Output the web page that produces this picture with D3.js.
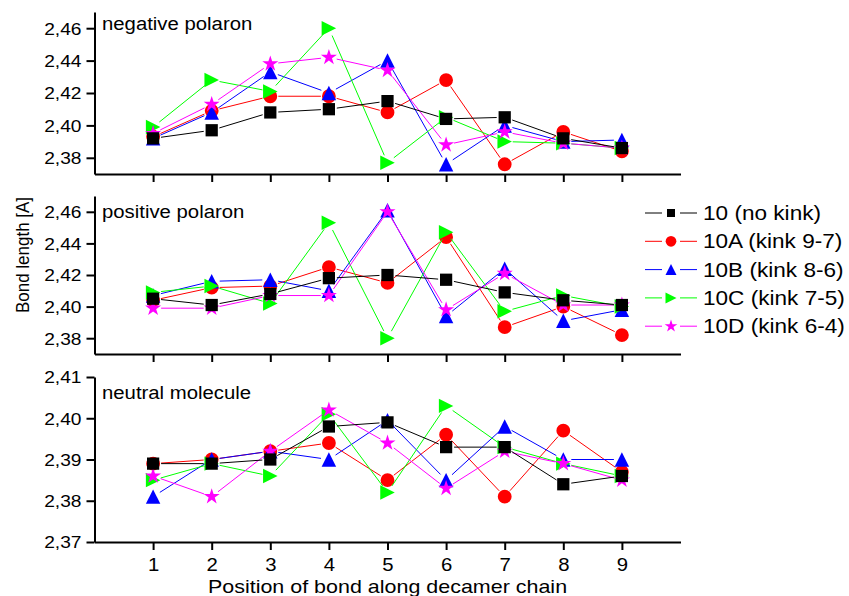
<!DOCTYPE html>
<html>
<head>
<meta charset="utf-8">
<script src="https://cdn.jsdelivr.net/npm/d3@7/dist/d3.min.js"></script>
<style>
  html, body { margin: 0; padding: 0; background: #fff; }
  svg { display: block; }
  text { font-family: "Liberation Sans", Arial, Helvetica, sans-serif; fill: #000; }
</style>
</head>
<body>
<svg id="chart" width="849" height="596"></svg>
<script>
// ---------------- data ----------------
const positions = [1, 2, 3, 4, 5, 6, 7, 8, 9];
const xTicks = [1, 2, 3, 4, 5, 6, 7, 8, 9];
const seriesNames = ["10 (no kink)", "10A (kink 9-7)", "10B (kink 8-6)", "10C (kink 7-5)", "10D (kink 6-4)"];
const seriesColors = ["#000000", "#ff0000", "#0000ff", "#00ff00", "#ff00ff"];
const panelLabels = ["negative polaron", "positive polaron", "neutral molecule"];

const neg10  = [2.392, 2.397, 2.408, 2.410, 2.415, 2.404, 2.405, 2.392, 2.386];
const neg10A = [2.393, 2.409, 2.418, 2.418, 2.408, 2.428, 2.376, 2.396, 2.384];
const neg10B = [2.392, 2.408, 2.433, 2.420, 2.440, 2.376, 2.400, 2.390, 2.391];
const neg10C = [2.399, 2.428, 2.421, 2.460, 2.377, 2.405, 2.390, 2.389, 2.386];
const neg10D = [2.395, 2.413, 2.438, 2.442, 2.434, 2.388, 2.396, 2.389, 2.386];

const pos10  = [2.405, 2.401, 2.408, 2.418, 2.420, 2.417, 2.409, 2.404, 2.401];
const pos10A = [2.404, 2.412, 2.413, 2.425, 2.415, 2.444, 2.387, 2.400, 2.382];
const pos10B = [2.407, 2.416, 2.417, 2.410, 2.461, 2.394, 2.424, 2.391, 2.398];
const pos10C = [2.409, 2.413, 2.402, 2.453, 2.380, 2.447, 2.397, 2.407, 2.400];
const pos10D = [2.399, 2.399, 2.407, 2.407, 2.460, 2.398, 2.421, 2.401, 2.401];

const neu10  = [2.389, 2.389, 2.390, 2.398, 2.399, 2.393, 2.393, 2.384, 2.386];
const neu10A = [2.389, 2.390, 2.392, 2.394, 2.385, 2.396, 2.381, 2.397, 2.387];
const neu10B = [2.381, 2.390, 2.392, 2.390, 2.3995, 2.385, 2.398, 2.390, 2.390];
const neu10C = [2.385, 2.389, 2.386, 2.401, 2.382, 2.403, 2.393, 2.389, 2.386];
const neu10D = [2.386, 2.381, 2.392, 2.402, 2.394, 2.383, 2.392, 2.389, 2.385];

const yTicksPolaron = [2.38, 2.40, 2.42, 2.44, 2.46];
const yTicksNeutral = [2.37, 2.38, 2.39, 2.40, 2.41];
const yDomainPolaron = [2.37, 2.47];
const yDomainNeutral = [2.37, 2.41];

// ---------------- layout ----------------
const svg = d3.select("#chart");
const X0 = 94.5, X1 = 680.5;
const SX = 1.13; // horizontal text stretch
const GAP = 8;   // line gap around symbols
const x = d3.scaleLinear().domain([0, 10]).range([X0, X1]);

const panels = [
  { label: panelLabels[0], series: [neg10, neg10A, neg10B, neg10C, neg10D], domain: yDomainPolaron, ticks: yTicksPolaron, top: 12, bottom: 174, labelY: 30 },
  { label: panelLabels[1], series: [pos10, pos10A, pos10B, pos10C, pos10D], domain: yDomainPolaron, ticks: yTicksPolaron, top: 196, bottom: 354, labelY: 218 },
  { label: panelLabels[2], series: [neu10, neu10A, neu10B, neu10C, neu10D], domain: yDomainNeutral, ticks: yTicksNeutral, top: 377, bottom: 542, labelY: 399 }
];

const locale = d3.formatLocale({ decimal: ",", thousands: ".", grouping: [3], currency: ["", ""] });
const fmt = locale.format(".2f");

// custom symbols
const triUp = { draw(ctx, size) { const r = Math.sqrt(size) / 2; ctx.moveTo(0, -r); ctx.lineTo(r, r); ctx.lineTo(-r, r); ctx.closePath(); } };
const triRight = { draw(ctx, size) { const r = Math.sqrt(size) / 2; ctx.moveTo(r, 0); ctx.lineTo(-r, -r); ctx.lineTo(-r, r); ctx.closePath(); } };
const symbolTypes = [d3.symbolSquare, d3.symbolCircle, triUp, triRight, d3.symbolStar];
const symbolSizes = [150, 150, 210, 210, 80];
const legendSizes = [64, 90, 120, 120, 50];
const drawOrder = [1, 2, 3, 4, 0];

function stretchedText(g, tx, ty, str, size, anchor, rotate) {
  return g.append("g").attr("transform", `translate(${tx},${ty}) scale(${SX},1)` + (rotate ? ` rotate(${rotate})` : ""))
    .append("text").attr("font-size", size).attr("text-anchor", anchor || "start").text(str);
}

panels.forEach((p, pi) => {
  const y = d3.scaleLinear().domain(p.domain).range([p.bottom, p.top]);
  const g = svg.append("g");

  // y axis
  const ya = g.append("g").attr("transform", `translate(${X0},0)`)
    .call(d3.axisLeft(y).tickValues(p.ticks).tickSize(8).tickSizeOuter(0).tickFormat(fmt));
  ya.select(".domain").attr("stroke", "#000").attr("stroke-width", 2);
  ya.selectAll(".tick line").attr("stroke", "#000").attr("stroke-width", 2);
  ya.selectAll(".tick text").attr("font-size", 17).attr("font-family", "Liberation Sans, Arial, sans-serif")
    .attr("x", -13 / SX).attr("dy", "0.35em").attr("transform", `scale(${SX},1)`).attr("fill", "#000");

  // x axis
  const xa = g.append("g").attr("transform", `translate(0,${p.bottom})`)
    .call(d3.axisBottom(x).tickValues(xTicks).tickSize(8).tickSizeOuter(0)
      .tickFormat(pi === 2 ? d3.format("d") : () => ""));
  xa.select(".domain").attr("stroke", "#000").attr("stroke-width", 2);
  xa.selectAll(".tick line").attr("stroke", "#000").attr("stroke-width", 2);
  xa.selectAll(".tick text").attr("font-size", 18).attr("font-family", "Liberation Sans, Arial, sans-serif")
    .attr("y", 0).attr("dy", 0).attr("fill", "#000")
    .attr("transform", `translate(0,29) scale(${SX},1)`);

  // panel label
  stretchedText(g, 102, p.labelY, p.label, 18, "start");

  // series: line segments with gaps around symbols, then symbols
  drawOrder.forEach(si => {
    const vals = p.series[si];
    const pts = vals.map((v, i) => [x(positions[i]), y(v)]);
    const segs = d3.pairs(pts).map(([a, b]) => {
      const dx = b[0] - a[0], dy = b[1] - a[1], L = Math.hypot(dx, dy);
      const ux = dx / L, uy = dy / L;
      return [[a[0] + ux * GAP, a[1] + uy * GAP], [b[0] - ux * GAP, b[1] - uy * GAP]];
    });
    g.append("g").selectAll("path").data(segs).join("path")
      .attr("d", d3.line())
      .attr("fill", "none").attr("stroke", seriesColors[si]).attr("stroke-width", 1);
    g.append("g").selectAll("path").data(vals).join("path")
      .attr("transform", (d, i) => `translate(${x(positions[i])},${y(d)})`)
      .attr("d", d3.symbol().type(symbolTypes[si]).size(symbolSizes[si]))
      .attr("fill", seriesColors[si]);
  });
});

// legend
const lg = svg.append("g");
seriesNames.forEach((name, i) => {
  const ly = 213 + i * 28.3;
  lg.append("line").attr("x1", 645).attr("x2", 662).attr("y1", ly).attr("y2", ly)
    .attr("stroke", seriesColors[i]).attr("stroke-width", 1);
  lg.append("line").attr("x1", 680).attr("x2", 697).attr("y1", ly).attr("y2", ly)
    .attr("stroke", seriesColors[i]).attr("stroke-width", 1);
  lg.append("path").attr("transform", `translate(671,${ly})`)
    .attr("d", d3.symbol().type(symbolTypes[i]).size(legendSizes[i]))
    .attr("fill", seriesColors[i]);
  stretchedText(lg, 703, ly + 7, name, 20, "start");
});

// axis titles
stretchedText(svg, (X0 + X1) / 2, 593, "Position of bond along decamer chain", 19, "middle");
stretchedText(svg, 29, 255, "Bond length [A]", 17, "middle", -90);
</script>
</body>
</html>
